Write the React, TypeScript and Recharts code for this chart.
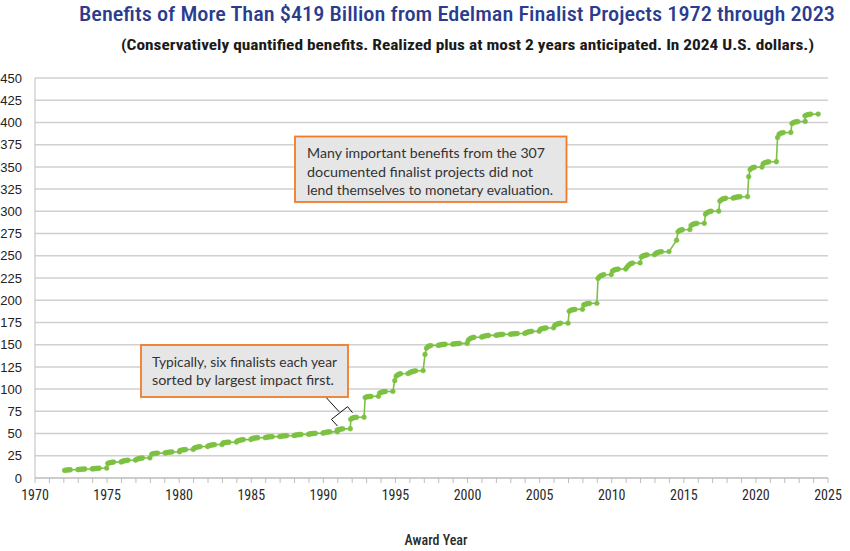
import React from 'react';
import { LineChart, Line, XAxis, YAxis, CartesianGrid, ReferenceLine } from 'recharts';

// ---------- data ----------
const awardYears = [
  1972, 1973, 1974, 1975, 1976, 1977, 1978, 1979,
  1980, 1981, 1982, 1983, 1984, 1985, 1986, 1987, 1988, 1989,
  1990, 1991, 1992, 1993, 1994, 1995, 1996, 1997, 1998, 1999,
  2000, 2001, 2002, 2003, 2004, 2005, 2006, 2007, 2008, 2009,
  2010, 2011, 2012, 2013, 2014, 2015, 2016, 2017, 2018, 2019,
  2020, 2021, 2022, 2023,
];

// where each award year's run of finalists sits on the time axis, relative to the year
const yearShift = [
  0, 0, 0, 0, 0, 0, 0.05, 0.05,
  0, 0, 0, 0, 0, 0, 0, 0, 0, 0,
  0, -0.1, -0.15, -0.15, -0.15, -0.1, -0.05, 0, 0, 0,
  0, 0, 0, 0, 0, 0, 0, 0, 0, 0,
  0, 0, 0, 0, 0.45, 0.45, 0.45, 0.45, 0.45, 0.45,
  0.45, 0.45, 0.45, 0.35,
];

// cumulative benefits ($B) after each finalist of the year, largest impact first
const benefits1970s = [
  [8.5, 8.8, 9.0, 9.2, 9.3, 9.4],
  [9.6, 9.8, 9.9, 10.0, 10.1, 10.2],
  [10.4, 10.6, 10.8, 10.9, 11.0, 11.1],
  [16.5, 17.0, 17.4, 17.7, 17.9, 18.0],
  [18.6, 19.1, 19.5, 19.8, 20.0, 20.1],
  [21.0, 21.6, 22.0, 22.3, 22.5, 22.6],
  [26.8, 27.3, 27.6, 27.8, 28.0, 28.1],
  [28.5, 28.8, 29.0, 29.2, 29.3, 29.4],
];
const benefits1980s = [
  [30.8, 31.3, 31.6, 31.8, 32.0, 32.1],
  [33.6, 34.3, 34.8, 35.1, 35.3, 35.4],
  [36.3, 36.8, 37.1, 37.3, 37.5, 37.6],
  [39.4, 39.8, 40.0, 40.2, 40.3, 40.4],
  [41.8, 42.3, 42.7, 43.0, 43.2, 43.3],
  [44.3, 44.7, 45.0, 45.2, 45.3, 45.4],
  [45.8, 46.1, 46.3, 46.4, 46.5, 46.6],
  [46.9, 47.2, 47.4, 47.5, 47.6, 47.7],
  [48.1, 48.5, 48.7, 48.9, 49.0, 49.1],
  [49.5, 49.8, 50.0, 50.2, 50.3, 50.4],
];
const benefits1990s = [
  [50.9, 51.3, 51.6, 51.8, 51.9, 52.0],
  [53.8, 54.4, 54.8, 55.1, 55.3, 55.4],
  [66.0, 67.2, 67.8, 68.1, 68.3, 68.4],
  [90.5, 91.2, 91.5, 91.7, 91.8, 91.9],
  [95.5, 96.3, 96.8, 97.1, 97.3, 97.4],
  [109.5, 114.5, 116.0, 116.8, 117.3, 117.5],
  [118.5, 119.3, 119.9, 120.3, 120.6, 120.8],
  [139.0, 146.0, 147.8, 148.6, 149.0, 149.2],
  [149.5, 149.9, 150.2, 150.4, 150.5, 150.5],
  [150.8, 151.0, 151.2, 151.3, 151.4, 151.4],
];
const benefits2000s = [
  [155.0, 156.5, 157.4, 158.0, 158.3, 158.5],
  [159.0, 159.5, 159.9, 160.2, 160.4, 160.5],
  [160.8, 161.1, 161.3, 161.5, 161.6, 161.7],
  [161.9, 162.1, 162.3, 162.4, 162.5, 162.6],
  [163.3, 164.0, 164.5, 164.8, 165.0, 165.1],
  [167.2, 167.9, 168.3, 168.6, 168.8, 168.9],
  [171.8, 172.7, 173.3, 173.8, 174.1, 174.2],
  [187.5, 188.6, 189.2, 189.5, 189.7, 189.8],
  [194.6, 195.4, 195.9, 196.2, 196.4, 196.5],
  [224.5, 226.5, 227.6, 228.3, 228.7, 228.9],
];
const benefits2010s = [
  [232.8, 233.8, 234.4, 234.8, 235.0, 235.1],
  [237.0, 239.0, 240.4, 241.3, 241.8, 242.0],
  [248.5, 249.6, 250.3, 250.8, 251.1, 251.2],
  [252.6, 253.4, 254.0, 254.4, 254.6, 254.7],
  [267.5, 277.0, 278.4, 279.0, 279.3, 279.5],
  [284.0, 285.2, 285.8, 286.2, 286.4, 286.5],
  [296.8, 298.3, 299.2, 299.8, 300.1, 300.2],
  [311.5, 313.0, 313.9, 314.4, 314.7, 314.8],
  [315.4, 315.8, 316.1, 316.3, 316.4, 316.5],
  [339.0, 347.0, 348.5, 349.2, 349.6, 349.8],
];
const benefits2020s = [
  [353.5, 354.5, 355.1, 355.5, 355.7, 355.8],
  [383.0, 386.5, 387.7, 388.3, 388.6, 388.7],
  [398.8, 399.8, 400.4, 400.8, 401.0, 401.1],
  [407.5, 408.3, 408.8, 409.1, 409.3, 409.4],
];

// position of each finalist within its award year (fraction of a year)
const finalistSlots = [0.05, 0.15, 0.25, 0.35, 0.45, 0.97];

const yTicks = [0, 25, 50, 75, 100, 125, 150, 175, 200, 225, 250, 275, 300, 325, 350, 375, 400, 425, 450];
const xTicks = [
  1970, 1971, 1972, 1973, 1974, 1975, 1976, 1977, 1978, 1979,
  1980, 1981, 1982, 1983, 1984, 1985, 1986, 1987, 1988, 1989,
  1990, 1991, 1992, 1993, 1994, 1995, 1996, 1997, 1998, 1999,
  2000, 2001, 2002, 2003, 2004, 2005, 2006, 2007, 2008, 2009,
  2010, 2011, 2012, 2013, 2014, 2015, 2016, 2017, 2018, 2019,
  2020, 2021, 2022, 2023, 2024, 2025,
];
const xTickLabels = [1970, 1975, 1980, 1985, 1990, 1995, 2000, 2005, 2010, 2015, 2020, 2025];

// bracket annotation (data coordinates)
const pointerLine = [{ x: 1990.17, y: 91 }, { x: 1991.09, y: 74.6 }];
const bracketLine = [{ x: 1990.56, y: 66 }, { x: 1991.68, y: 80.2 }];
const bracketUpperEnd = [{ x: 1991.68, y: 80.2 }, { x: 1992.02, y: 73.5 }];
const bracketLowerEnd = [{ x: 1990.56, y: 66 }, { x: 1990.98, y: 58.5 }];

const title = 'Benefits of More Than $419 Billion from Edelman Finalist Projects 1972 through 2023';
const subtitle = '(Conservatively quantified benefits. Realized plus at most 2 years anticipated. In 2024 U.S. dollars.)';
const note1 = [
  'Many important benefits from the 307',
  'documented finalist projects did not',
  'lend themselves to monetary evaluation.',
];
const note2 = ['Typically, six finalists each year', 'sorted by largest impact first.'];
const xTitle = 'Award Year';

const allYears = [...benefits1970s, ...benefits1980s, ...benefits1990s, ...benefits2000s, ...benefits2010s, ...benefits2020s];
const data = awardYears.flatMap((yr, i) =>
  allYears[i].map((v, j) => ({ x: yr + yearShift[i] + finalistSlots[j], v }))
);

const GREEN = '#7cc142';
const CONDENSED = "'Liberation Sans Narrow', 'Roboto Condensed', 'Roboto', 'Liberation Sans', sans-serif";
const AVENIR = "'Lato', 'Open Sans', 'Liberation Sans', sans-serif";

const XTick = (props: any) => {
  const { x, y, payload } = props;
  if (!xTickLabels.includes(payload.value)) return <g />;
  return (
    <text x={x} y={y + 9} textAnchor="middle" fontFamily={CONDENSED} fontSize={14} fill="#2a2a2a">
      {payload.value}
    </text>
  );
};

export default function App() {
  return (
    <div style={{ position: 'absolute', left: 0, top: 0, width: 850, height: 551, background: '#fff' }}>
      <LineChart width={850} height={551} data={data} margin={{ top: 78, right: 22, bottom: 0, left: 0 }}>
        <CartesianGrid vertical={false} stroke="#d0d0d0" strokeWidth={1.5} />
        <XAxis
          dataKey="x"
          type="number"
          domain={[1970, 2025]}
          ticks={xTicks}
          interval={0}
          height={73}
          axisLine={{ stroke: '#bdbdbd', strokeWidth: 1 }}
          tickLine={{ stroke: '#bdbdbd' }}
          tickSize={5}
          tickMargin={8}
          tick={<XTick />}
        />
        <YAxis
          type="number"
          domain={[0, 450]}
          ticks={yTicks}
          interval={0}
          width={35}
          axisLine={{ stroke: '#bdbdbd', strokeWidth: 1 }}
          tickLine={false}
          tickSize={0}
          tickMargin={13}
          tick={{ fontFamily: "'Liberation Sans', Arial, sans-serif", fontSize: 13, fill: '#222' }}
        />
        <Line
          dataKey="v"
          type="linear"
          stroke={GREEN}
          strokeWidth={1.6}
          dot={{ r: 2.4, fill: GREEN, stroke: GREEN, strokeWidth: 0.5 }}
          activeDot={false}
          isAnimationActive={false}
        />
        <ReferenceLine segment={pointerLine} stroke="#111" strokeWidth={1} />
        <ReferenceLine segment={bracketLine} stroke="#111" strokeWidth={1} />
        <ReferenceLine segment={bracketUpperEnd} stroke="#111" strokeWidth={1} />
        <ReferenceLine segment={bracketLowerEnd} stroke="#111" strokeWidth={1} />
      </LineChart>
      <svg width={850} height={551} style={{ position: 'absolute', left: 0, top: 0, pointerEvents: 'none' }}>
        <text x={79} y={21} fontFamily={CONDENSED} fontSize={20} fontWeight={500} fill="#2b3c8e"
          textLength={756} lengthAdjust="spacingAndGlyphs">{title}</text>
        <text x={121} y={50} fontFamily={CONDENSED} fontSize={15} fontWeight={700} fill="#1a1a1a"
          textLength={693} lengthAdjust="spacingAndGlyphs">{subtitle}</text>

        <rect x={295} y={136.5} width={271.5} height={65.5} fill="#e6e6e6" stroke="#f07c2b" strokeWidth={1.8} />
        {note1.map((t, i) => (
          <text key={i} x={307} y={158 + i * 18.5} fontFamily={AVENIR} fontSize={14} fill="#333"
            textLength={[238, 226, 246][i]} lengthAdjust="spacingAndGlyphs">{t}</text>
        ))}

        <rect x={141} y={345} width={207} height={52} fill="#e6e6e6" stroke="#f07c2b" strokeWidth={1.8} />
        {note2.map((t, i) => (
          <text key={i} x={152} y={366.5 + i * 18.5} fontFamily={AVENIR} fontSize={14} fill="#333"
            textLength={[185, 182][i]} lengthAdjust="spacingAndGlyphs">{t}</text>
        ))}

        <text x={436} y={545} textAnchor="middle" fontFamily={CONDENSED} fontSize={14} fontWeight={500} fill="#2a2a2a">
          {xTitle}
        </text>
      </svg>
    </div>
  );
}
